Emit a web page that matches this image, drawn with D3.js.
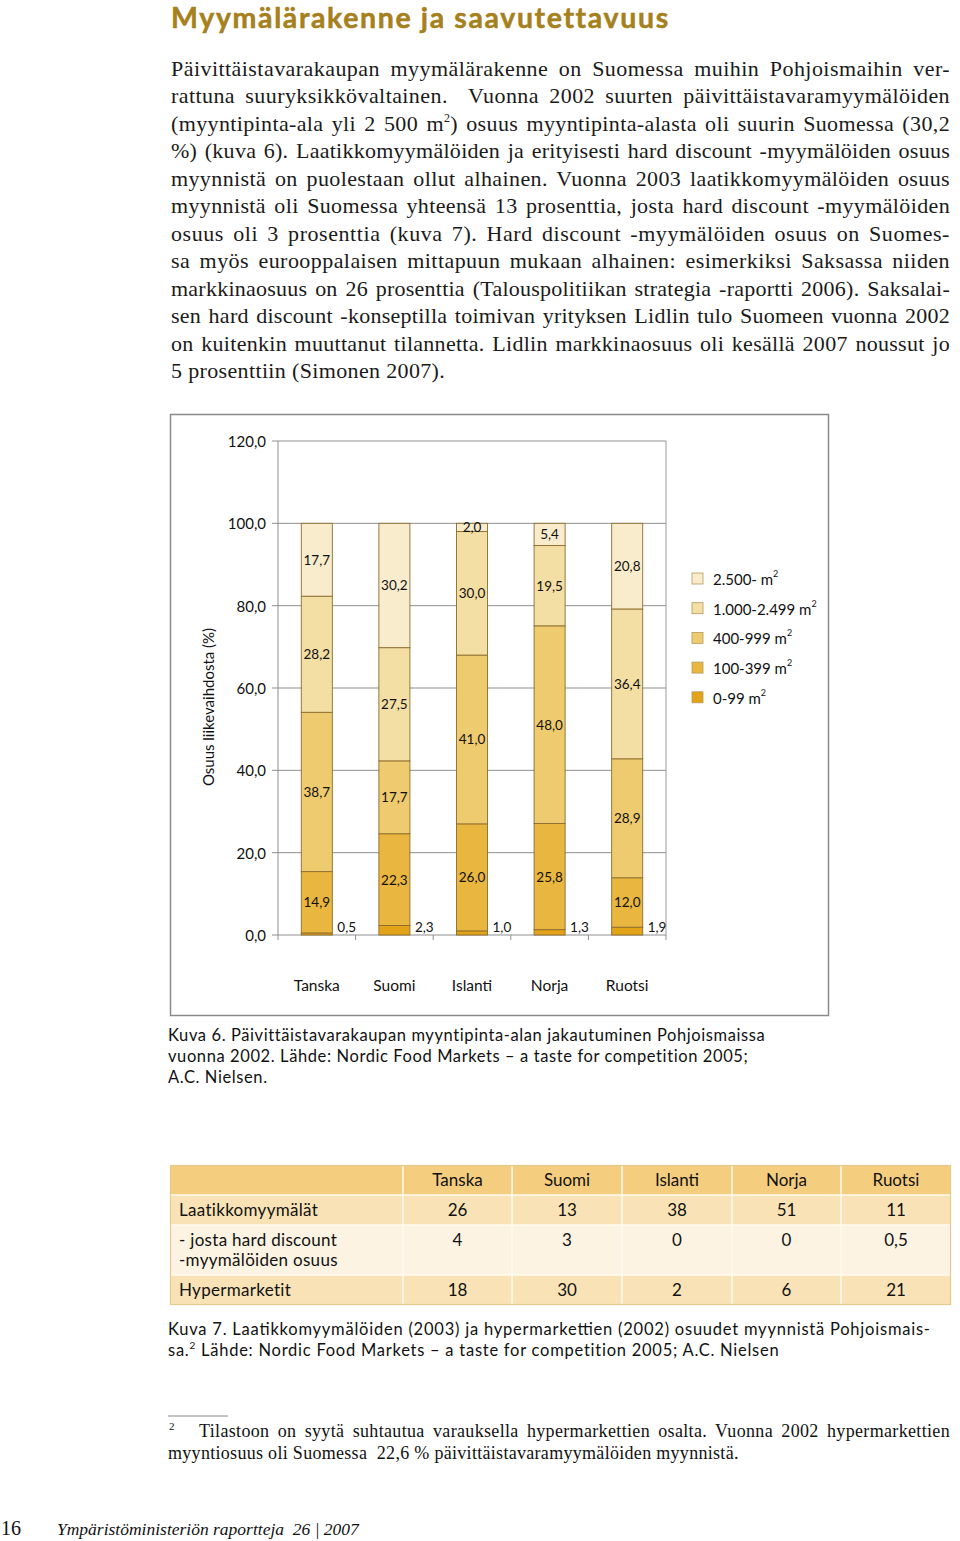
<!DOCTYPE html>
<html><head><meta charset="utf-8">
<script src="https://cdn.jsdelivr.net/npm/d3@7"></script>
<style>
html,body{margin:0;padding:0;background:#fff;}
svg{display:block;}
.sans{font-family:Lato,"Open Sans",sans-serif;}
.serif{font-family:"Liberation Serif","DejaVu Serif",serif;}
</style></head>
<body>
<svg id="page" width="960" height="1541"></svg>
<script>
// ---- data ----
const countries = ["Tanska","Suomi","Islanti","Norja","Ruotsi"];
const sizeClasses = ["0-99","100-399","400-999","1.000-2.499","2.500-"];
const share0_99     = [0.5, 2.3, 1.0, 1.3, 1.9];
const share100_399  = [14.9, 22.3, 26.0, 25.8, 12.0];
const share400_999  = [38.7, 17.7, 41.0, 48.0, 28.9];
const share1000_2499= [28.2, 27.5, 30.0, 19.5, 36.4];
const share2500     = [17.7, 30.2, 2.0, 5.4, 20.8];
const yTicks = [0,20,40,60,80,100,120];
const tableRowLabels = [["Laatikkomyymälät"],["- josta hard discount","-myymälöiden osuus"],["Hypermarketit"]];
const laatikko = [26,13,38,51,11];
const hardDiscount = [4,3,0,0,0.5];
const hypermarketit = [18,30,2,6,21];

const colors = ["#e2a319","#e9b63f","#efcb70","#f3dea3","#f9eccc"];
const fmt = v => d3.format(".1f")(v).replace(".", ",");
const fmtT = v => String(v).replace(".", ",");

const svg = d3.select("#page");

// justify: half of the extra width as letter spacing, the rest as word spacing
function justify(sel, width, letterShare){
  const node = sel.node();
  const txt = node.textContent;
  const n = txt.length;
  let w = node.getComputedTextLength();
  if(w>=width) return;
  const ls = (width-w)*letterShare/n;
  sel.attr("letter-spacing", ls);
  w = node.getComputedTextLength();
  const spaces = (txt.match(/ /g)||[]).length;
  if(spaces>0 && w<width) sel.attr("word-spacing", (width-w)/spaces);
}

// ---- title & body text ----
const title = svg.append("text").attr("class","sans").attr("x",171).attr("y",28)
  .attr("font-size",28.5).attr("font-weight",700).attr("fill","#a6801c")
  .attr("stroke","#a6801c").attr("stroke-width",0.5)
  .text("Myymälärakenne ja saavutettavuus");
{
  const w = title.node().getComputedTextLength();
  const n = title.text().length;
  title.attr("letter-spacing", Math.max(0,(496-w)/(n-1)));
}

const body = [
 ["Päivittäistavarakaupan myymälärakenne on Suomessa muihin Pohjoismaihin ver-"],
 ["rattuna suuryksikkövaltainen.  Vuonna 2002 suurten päivittäistavaramyymälöiden"],
 ["(myyntipinta-ala yli 2 500 m","2",") osuus myyntipinta-alasta oli suurin Suomessa (30,2"],
 ["%) (kuva 6). Laatikkomyymälöiden ja erityisesti hard discount -myymälöiden osuus"],
 ["myynnistä on puolestaan ollut alhainen. Vuonna 2003 laatikkomyymälöiden osuus"],
 ["myynnistä oli Suomessa yhteensä 13 prosenttia, josta hard discount -myymälöiden"],
 ["osuus oli 3 prosenttia (kuva 7). Hard discount -myymälöiden osuus on Suomes-"],
 ["sa myös eurooppalaisen mittapuun mukaan alhainen: esimerkiksi Saksassa niiden"],
 ["markkinaosuus on 26 prosenttia (Talouspolitiikan strategia -raportti 2006). Saksalai-"],
 ["sen hard discount -konseptilla toimivan yrityksen Lidlin tulo Suomeen vuonna 2002"],
 ["on kuitenkin muuttanut tilannetta. Lidlin markkinaosuus oli kesällä 2007 noussut jo"],
 ["5 prosenttiin (Simonen 2007)."]
];
body.forEach((parts,i)=>{
  const t = svg.append("text").attr("class","serif").attr("x",171).attr("y",76+i*27.45)
    .attr("font-size",22).attr("fill","#1a1a1a").attr("xml:space","preserve");
  parts.forEach((p,j)=>{
    const s = t.append("tspan").text(p);
    if(parts.length===3 && j===1) s.attr("font-size",12).attr("dy",-9);
    if(parts.length===3 && j===2) s.attr("dy",9);
  });
  if(i<body.length-1) justify(t, 779, 0.55);
  else t.attr("letter-spacing",0.35);
});

// ---- chart ----
svg.append("rect").attr("x",170.5).attr("y",414.5).attr("width",658).attr("height",601)
  .attr("fill","none").attr("stroke","#8a8a8a").attr("stroke-width",1.5);

const x = d3.scaleBand().domain(countries).range([278,666]).paddingInner(0.6).paddingOuter(0.3);
const y = d3.scaleLinear().domain([0,120]).range([935,441]);

const g = svg.append("g").attr("class","sans");
g.selectAll("line.grid").data(yTicks).join("line")
  .attr("x1",272).attr("x2",666).attr("y1",d=>y(d)).attr("y2",d=>y(d))
  .attr("stroke","#8f8f8f").attr("stroke-width",1);
g.append("line").attr("x1",278).attr("x2",278).attr("y1",y(120)).attr("y2",y(0)).attr("stroke","#8f8f8f");
g.append("line").attr("x1",666).attr("x2",666).attr("y1",y(120)).attr("y2",y(0)).attr("stroke","#9a9a9a");
const step = x.step();
const bounds = d3.range(countries.length+1).map(i=>278+i*step);
g.selectAll("line.xt").data(bounds).join("line")
  .attr("x1",d=>d).attr("x2",d=>d).attr("y1",y(0)).attr("y2",y(0)+5).attr("stroke","#8f8f8f");
g.selectAll("text.yt").data(yTicks).join("text")
  .attr("x",266).attr("y",d=>y(d)+6).attr("text-anchor","end").attr("font-size",15).attr("fill","#111")
  .text(d=>fmt(d));
g.append("text").attr("transform","translate(214,707) rotate(-90)").attr("text-anchor","middle")
  .attr("font-size",15).attr("fill","#111").text("Osuus liikevaihdosta (%)");
g.selectAll("text.xl").data(countries).join("text")
  .attr("x",d=>x(d)+x.bandwidth()/2).attr("y",991).attr("text-anchor","middle")
  .attr("font-size",15.5).attr("fill","#111").text(d=>d);

const rows = countries.map((c,i)=>({country:c, s0:share0_99[i], s1:share100_399[i], s2:share400_999[i], s3:share1000_2499[i], s4:share2500[i]}));
const keys = ["s0","s1","s2","s3","s4"];
const series = d3.stack().keys(keys)(rows);
const sg = g.selectAll("g.series").data(series).join("g").attr("fill",(d,i)=>colors[i]);
sg.selectAll("rect").data(d=>d).join("rect")
  .attr("x",d=>x(d.data.country)).attr("width",x.bandwidth())
  .attr("y",d=>y(d[1])).attr("height",d=>y(d[0])-y(d[1]))
  .attr("stroke","#8c6c2c").attr("stroke-width",0.9);
series.forEach((s,si)=>{
  s.forEach(d=>{
    const v = d[1]-d[0];
    if(si===0){
      g.append("text").attr("x",x(d.data.country)+x.bandwidth()+5).attr("y",y(0)-3)
        .attr("font-size",13.5).attr("fill","#111").text(fmt(v));
    } else {
      g.append("text").attr("x",x(d.data.country)+x.bandwidth()/2).attr("y",(y(d[0])+y(d[1]))/2+5)
        .attr("text-anchor","middle").attr("font-size",13.5).attr("fill","#111").text(fmt(v));
    }
  });
});

const legendOrder = sizeClasses.map((c,i)=>({label:c, color:colors[i]})).reverse();
const lg = g.selectAll("g.leg").data(legendOrder).join("g")
  .attr("transform",(d,i)=>`translate(692,${573+i*29.7})`);
lg.append("rect").attr("width",11).attr("height",11).attr("fill",d=>d.color)
  .attr("stroke","#b59a5e").attr("stroke-width",0.8);
const lt = lg.append("text").attr("x",21).attr("y",12).attr("font-size",15).attr("fill","#111");
lt.append("tspan").text(d=>d.label+" m");
lt.append("tspan").attr("font-size",9).attr("dy",-8).text("2");

// caption 6
const cap6 = ["Kuva 6. Päivittäistavarakaupan myyntipinta-alan jakautuminen Pohjoismaissa",
  "vuonna 2002. Lähde: Nordic Food Markets – a taste for competition 2005;",
  "A.C. Nielsen."];
cap6.forEach((l,i)=>svg.append("text").attr("class","sans").attr("x",168).attr("y",1041+i*21)
  .attr("font-size",16.5).attr("letter-spacing",0.6).attr("fill","#111").text(l));

// ---- table ----
const tx = [170,403,512,622,732,841,951];
const rowY = [1165,1195,1225,1275,1305];
const rowFill = ["#f5cd7f","#f9e3b6","#fdf3e2","#f9e3b6"];
const tg = svg.append("g").attr("class","sans");
rowFill.forEach((f,r)=>{
  tg.append("rect").attr("x",tx[0]).attr("y",rowY[r]).attr("width",tx[6]-tx[0]).attr("height",rowY[r+1]-rowY[r]).attr("fill",f);
});
rowY.slice(1,-1).forEach(yy=>tg.append("line").attr("x1",tx[0]).attr("x2",tx[6]).attr("y1",yy).attr("y2",yy).attr("stroke","#fffaf0").attr("stroke-width",1.5));
tx.slice(1,-1).forEach(xx=>tg.append("line").attr("x1",xx).attr("x2",xx).attr("y1",rowY[0]).attr("y2",rowY[4]).attr("stroke","#fffaf0").attr("stroke-width",1.5));
tg.append("rect").attr("x",tx[0]+0.5).attr("y",rowY[0]+0.5).attr("width",tx[6]-tx[0]-1).attr("height",rowY[4]-rowY[0]-1)
  .attr("fill","none").attr("stroke","#e6c98e").attr("stroke-width",1.2);
const colCenter = i => (tx[i+1]+tx[i+2])/2;
countries.forEach((c,i)=>tg.append("text").attr("x",colCenter(i)).attr("y",1186).attr("text-anchor","middle")
  .attr("font-size",17).attr("fill","#111").text(c));
const tableVals = [laatikko, hardDiscount, hypermarketit];
const textY = [1216,1246,1296];
tableRowLabels.forEach((lines,r)=>{
  lines.forEach((l,k)=>tg.append("text").attr("x",179).attr("y",textY[r]+k*20).attr("font-size",17).attr("letter-spacing",0.3).attr("fill","#111").text(l));
  tableVals[r].forEach((v,i)=>tg.append("text").attr("x",colCenter(i)).attr("y",textY[r]).attr("text-anchor","middle")
    .attr("font-size",17).attr("fill","#111").text(fmtT(v)));
});

// caption 7
const c7a = svg.append("text").attr("class","sans").attr("x",168).attr("y",1335).attr("font-size",16.5).attr("fill","#111")
  .attr("textLength",762).attr("lengthAdjust","spacing")
  .text("Kuva 7. Laatikkomyymälöiden (2003) ja hypermarkettien (2002) osuudet myynnistä Pohjoismais-");
const c7b = svg.append("text").attr("class","sans").attr("x",168).attr("y",1356).attr("font-size",16.5)
  .attr("letter-spacing",0.75).attr("fill","#111");
c7b.append("tspan").text("sa.");
c7b.append("tspan").attr("font-size",10).attr("dy",-7).text("2");
c7b.append("tspan").attr("dy",7).text(" Lähde: Nordic Food Markets – a taste for competition 2005; A.C. Nielsen");

// footnote
svg.append("line").attr("x1",168).attr("x2",228).attr("y1",1416).attr("y2",1416).attr("stroke","#888").attr("stroke-width",1);
svg.append("text").attr("class","serif").attr("x",169).attr("y",1430).attr("font-size",11).attr("fill","#111").text("2");
const fn1 = svg.append("text").attr("class","serif").attr("x",199).attr("y",1437).attr("font-size",18).attr("fill","#111")
  .text("Tilastoon on syytä suhtautua varauksella hypermarkettien osalta. Vuonna 2002 hypermarkettien");
justify(fn1, 751, 0.5);
svg.append("text").attr("class","serif").attr("x",168).attr("y",1459).attr("font-size",18).attr("fill","#111")
  .attr("letter-spacing",0.3).attr("xml:space","preserve")
  .text("myyntiosuus oli Suomessa  22,6 % päivittäistavaramyymälöiden myynnistä.");

// page footer
svg.append("text").attr("class","serif").attr("x",1).attr("y",1535).attr("font-size",20).attr("fill","#111").text("16");
svg.append("text").attr("class","serif").attr("x",57).attr("y",1535).attr("font-size",17.5).attr("font-style","italic").attr("fill","#111")
  .attr("xml:space","preserve")
  .text("Ympäristöministeriön raportteja  26 | 2007");
</script>
</body></html>
